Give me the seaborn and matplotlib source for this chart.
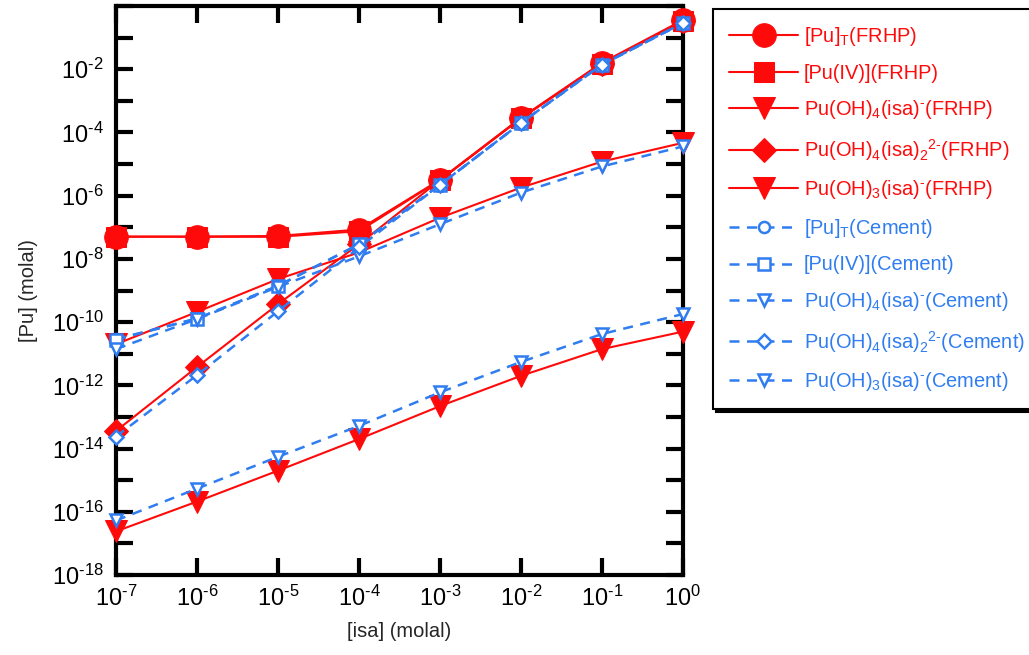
import numpy as np
import pandas as pd
import matplotlib
matplotlib.use("Agg")
import matplotlib.pyplot as plt
import seaborn as sns
from matplotlib.ticker import FixedLocator, FuncFormatter, NullLocator

# ---------------- data ----------------
isa = [1e-7, 1e-6, 1e-5, 1e-4, 1e-3, 1e-2, 1e-1, 1e0]

pu_t_frhp = [5.1e-8, 5.1e-8, 5.3e-8, 8.5e-8, 3.2e-6, 2.9e-4, 1.6e-2, 0.36]
pu_iv_frhp = [5.0e-8, 5.0e-8, 5.0e-8, 7.5e-8, 3.1e-6, 2.8e-4, 1.5e-2, 0.33]
puoh4isa_frhp = [2.0e-11, 2.1e-10, 2.3e-9, 1.6e-8, 2.0e-7, 1.8e-6, 1.2e-5, 4.7e-5]
puoh4isa2_frhp = [3.6e-14, 3.8e-12, 3.7e-10, 2.9e-8, 3.1e-6, 2.8e-4, 1.5e-2, 0.33]
puoh3isa_frhp = [2.4e-17, 2.1e-16, 2.0e-15, 2.0e-14, 2.2e-13, 2.0e-12, 1.4e-11, 5.0e-11]

pu_t_cem = [2.9e-11, 1.3e-10, 1.4e-9, 2.9e-8, 2.2e-6, 2.0e-4, 1.4e-2, 0.29]
pu_iv_cem = [2.8e-11, 1.3e-10, 1.4e-9, 2.9e-8, 2.2e-6, 2.0e-4, 1.4e-2, 0.29]
puoh4isa_cem = [1.4e-11, 1.25e-10, 1.3e-9, 1.2e-8, 1.25e-7, 1.25e-6, 8.4e-6, 3.6e-5]
puoh4isa2_cem = [2.4e-14, 2.1e-12, 2.2e-10, 2.3e-8, 2.2e-6, 2.0e-4, 1.4e-2, 0.29]
puoh3isa_cem = [5.3e-17, 5.4e-16, 5.5e-15, 5.2e-14, 6.0e-13, 5.5e-12, 4.2e-11, 1.8e-10]

HY = "\u2010"  # short hyphen for superscript charges
labels = [
    r"[Pu]$_\mathregular{T}$(FRHP)",
    r"[Pu(IV)](FRHP)",
    r"Pu(OH)$_\mathregular{4}$(isa)$^\mathregular{" + HY + r"}$(FRHP)",
    r"Pu(OH)$_\mathregular{4}$(isa)$_\mathregular{2}$$^\mathregular{2" + HY + r"}$(FRHP)",
    r"Pu(OH)$_\mathregular{3}$(isa)$^\mathregular{" + HY + r"}$(FRHP)",
    r"[Pu]$_\mathregular{T}$(Cement)",
    r"[Pu(IV)](Cement)",
    r"Pu(OH)$_\mathregular{4}$(isa)$^\mathregular{" + HY + r"}$(Cement)",
    r"Pu(OH)$_\mathregular{4}$(isa)$_\mathregular{2}$$^\mathregular{2" + HY + r"}$(Cement)",
    r"Pu(OH)$_\mathregular{3}$(isa)$^\mathregular{" + HY + r"}$(Cement)",
]
series = [pu_t_frhp, pu_iv_frhp, puoh4isa_frhp, puoh4isa2_frhp, puoh3isa_frhp,
          pu_t_cem, pu_iv_cem, puoh4isa_cem, puoh4isa2_cem, puoh3isa_cem]

# ---------------- style ----------------
sns.set_style("ticks")
plt.rcParams["font.family"] = ["Liberation Sans", "DejaVu Sans"]
plt.rcParams["mathtext.fontset"] = "custom"
plt.rcParams["mathtext.rm"] = "Liberation Sans"
plt.rcParams["mathtext.it"] = "Liberation Sans"
plt.rcParams["mathtext.bf"] = "Liberation Sans"

RED = "#ff0a0a"
BLUE = "#2f7df0"

red_markers = ["o", "s", "v", "D", "v"]
red_sizes = [17, 15, 16, 12, 16]
blue_markers = ["o", "s", "v", "D", "v"]
blue_sizes = [8, 9, 9, 7, 9]

fig = plt.figure(figsize=(10.29, 6.55), dpi=100)
ax = fig.add_axes([116 / 1029, 1 - 575 / 655, (683 - 116) / 1029, (575 - 6) / 655])

for i, (lab, vals) in enumerate(zip(labels, series)):
    df = pd.DataFrame({"isa": isa, "Pu": vals})
    if i < 5:
        kw = dict(color=RED, marker=red_markers[i], markersize=red_sizes[i],
                  markerfacecolor=RED, markeredgecolor=RED, linewidth=1.5,
                  linestyle="-", zorder=3)
    else:
        j = i - 5
        kw = dict(color=BLUE, marker=blue_markers[j], markersize=blue_sizes[j],
                  markerfacecolor="white", markeredgecolor=BLUE, markeredgewidth=1.8,
                  linewidth=1.8, linestyle=(0, (4, 3)), zorder=4)
    sns.lineplot(data=df, x="isa", y="Pu", ax=ax, label=lab, clip_on=False, **kw)

ax.set_xscale("log")
ax.set_yscale("log")
ax.set_xlim(1e-7, 1e0)
ax.set_ylim(1e-18, 1e0)


def pow_label(k):
    s = str(k).replace("-", HY)
    return r"$\mathregular{10^{%s}}$" % s


ax.xaxis.set_major_locator(FixedLocator(isa))
ax.xaxis.set_minor_locator(NullLocator())
ax.xaxis.set_major_formatter(FuncFormatter(
    lambda v, p: pow_label(int(round(np.log10(v))))))

yt = [10.0 ** k for k in range(-18, 1)]
ax.yaxis.set_major_locator(FixedLocator(yt))
ax.yaxis.set_minor_locator(NullLocator())


def yfmt(v, p):
    k = int(round(np.log10(v)))
    if k % 2 == 0 and k < 0:
        return pow_label(k)
    return ""


ax.yaxis.set_major_formatter(FuncFormatter(yfmt))

ax.tick_params(which="major", direction="in", length=12, width=3,
               top=True, right=True, labelsize=17, colors="black")
ax.tick_params(axis="x", pad=8)
ax.tick_params(axis="y", pad=9)
for s in ax.spines.values():
    s.set_linewidth(3)
    s.set_color("black")

ax.set_xlabel("[isa] (molal)", fontsize=14.5, labelpad=8)
ax.set_ylabel("[Pu] (molal)", fontsize=14.5, labelpad=10)

ax.get_legend().remove()
h, l = ax.get_legend_handles_labels()
leg = fig.legend(h, l, loc="upper left", bbox_to_anchor=(713 / 1029, 1 - 9 / 655),
                 frameon=True, fontsize=14.4, labelcolor="linecolor",
                 handlelength=3.45, handletextpad=0.3, borderpad=0.8,
                 labelspacing=0.78, borderaxespad=0.0, fancybox=False,
                 shadow={"color": "black", "alpha": 1.0})
leg.get_frame().set_edgecolor("black")
leg.get_frame().set_linewidth(1.5)

fig.savefig("out.png", dpi=100)
